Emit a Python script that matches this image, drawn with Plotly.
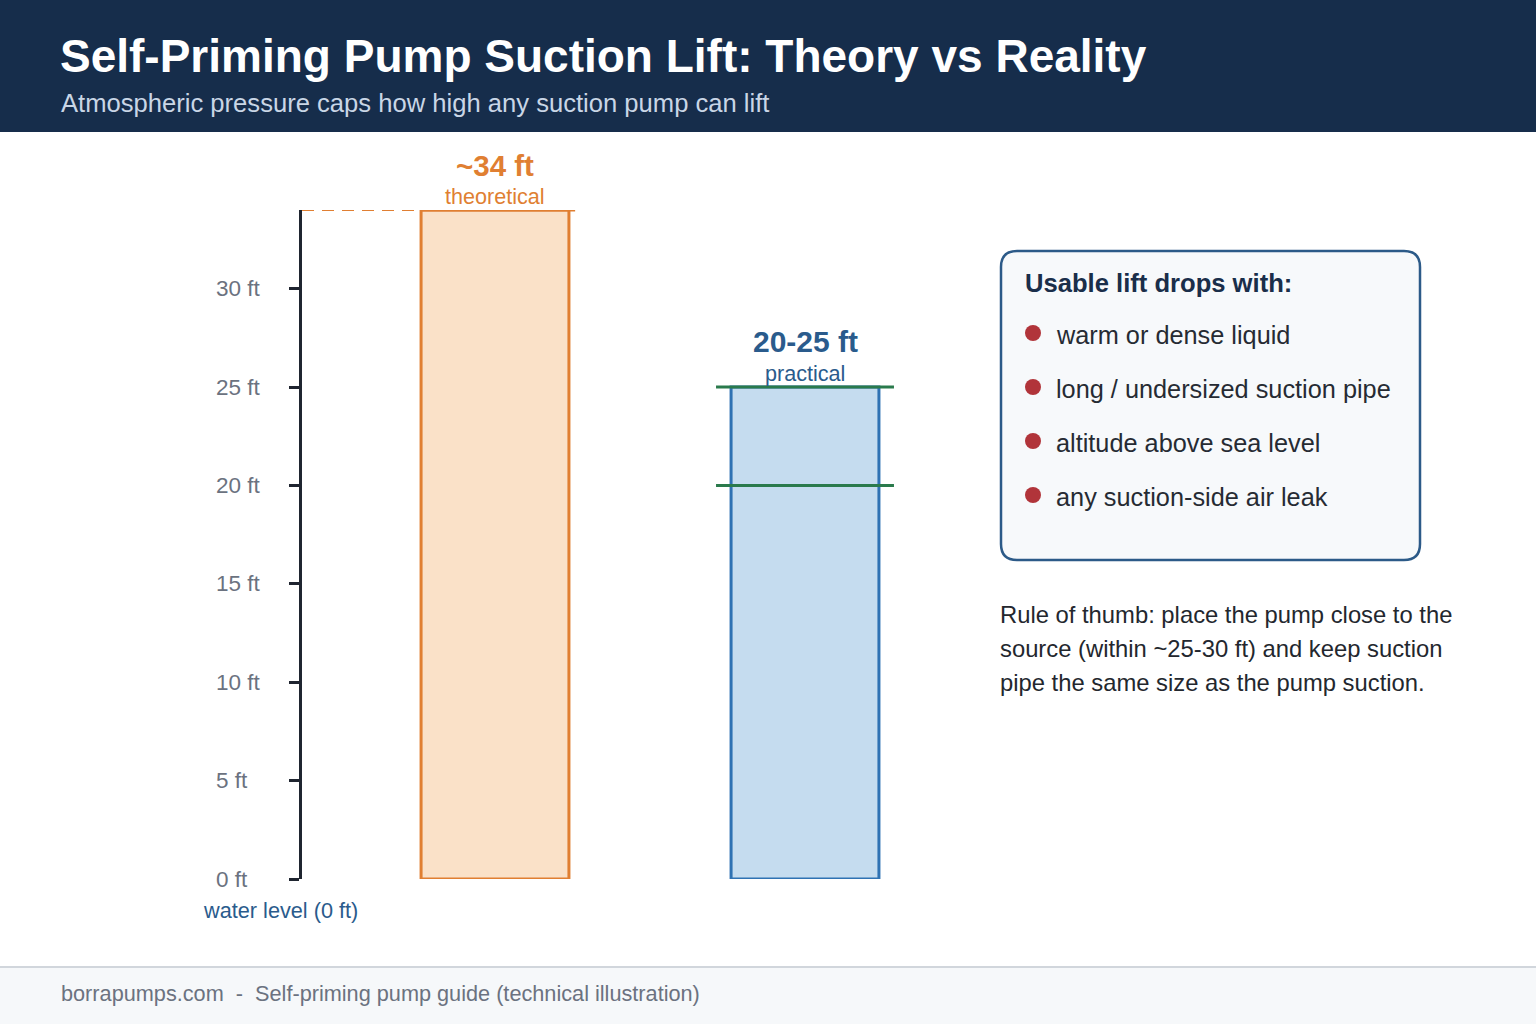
import plotly.graph_objects as go

W, H = 1536, 1024

# ---------------- data ----------------
categories = ["theoretical", "practical"]
lift_ft = [34, 25]
practical_band = [20, 25]
tick_vals = [0, 5, 10, 15, 20, 25, 30]
tick_text = ["0 ft", "5 ft", "10 ft", "15 ft", "20 ft", "25 ft", "30 ft"]
bar_titles = ["~34 ft", "20-25 ft"]
factors = ["warm or dense liquid", "long / undersized suction pipe",
           "altitude above sea level", "any suction-side air leak"]
rule_lines = ["Rule of thumb: place the pump close to the",
              "source (within ~25-30 ft) and keep suction",
              "pipe the same size as the pump suction."]

title = "Self-Priming Pump Suction Lift: Theory vs Reality"
subtitle = "Atmospheric pressure caps how high any suction pump can lift"
footer = "borrapumps.com  -  Self-priming pump guide (technical illustration)"

# ---------------- colours ----------------
NAVY = "#162d4b"
ORANGE = "#e07f32"
ORANGE_FILL = "#fae1c8"
BLUE = "#2f72b3"
BLUE_FILL = "#c5dcef"
BLUE_TEXT = "#2a5b8c"
GREEN = "#2a7a4c"
RED = "#b1343a"
GRAY = "#6b7280"
DARK = "#1f2530"
FONT = "Liberation Sans, Arial, sans-serif"


def px(x):
    return x / W


def py(y):
    return 1 - y / H


fig = go.Figure()

fig.add_trace(go.Bar(
    x=[0, 1], y=lift_ft, width=0.477,
    marker=dict(color=[ORANGE_FILL, BLUE_FILL],
                line=dict(color=[ORANGE, BLUE], width=3)),
    hoverinfo="skip", showlegend=False,
))

# x axis: category index 0 / 1
x_lo, x_hi = -0.6226, 1.5
fig.update_xaxes(range=[x_lo, x_hi], domain=[px(302), px(960)],
                 visible=False, fixedrange=True)
fig.update_yaxes(range=[0, 34], domain=[py(879), py(210)],
                 showgrid=False, zeroline=False, showline=True,
                 linecolor=DARK, linewidth=3,
                 ticks="outside", ticklen=10, tickwidth=3, tickcolor=DARK,
                 tickvals=tick_vals, showticklabels=False, fixedrange=True)

shapes = []
# header band
shapes.append(dict(type="rect", xref="paper", yref="paper", x0=0, x1=1,
                   y0=py(132), y1=1, fillcolor=NAVY, line_width=0, layer="below"))
# footer band
shapes.append(dict(type="rect", xref="paper", yref="paper", x0=0, x1=1,
                   y0=0, y1=py(967), fillcolor="#f6f8fa", line_width=0, layer="below"))
shapes.append(dict(type="line", xref="paper", yref="paper", x0=0, x1=1,
                   y0=py(967), y1=py(967), line=dict(color="#d1d6dc", width=2)))

# theoretical limit: dashed guide from the axis to the bar, solid over the bar
bar_half = 0.477 / 2
shapes.append(dict(type="line", xref="x", yref="y", x0=x_lo, x1=0 - bar_half,
                   y0=lift_ft[0], y1=lift_ft[0],
                   line=dict(color=ORANGE, width=2, dash="12px,8px")))
shapes.append(dict(type="line", xref="x", yref="y", x0=0 - bar_half, x1=0 + bar_half + 0.02,
                   y0=lift_ft[0], y1=lift_ft[0],
                   line=dict(color=ORANGE, width=3)))
# practical band lines
for v in practical_band:
    shapes.append(dict(type="line", xref="x", yref="y", x0=1 - 0.287, x1=1 + 0.287,
                       y0=v, y1=v, line=dict(color=GREEN, width=3)))

# info box (rounded)
bx0, bx1, by0, by1, r = 1001, 1420, 251, 560, 16
path = (f"M {px(bx0 + r)} {py(by0)} L {px(bx1 - r)} {py(by0)} "
        f"Q {px(bx1)} {py(by0)} {px(bx1)} {py(by0 + r)} "
        f"L {px(bx1)} {py(by1 - r)} Q {px(bx1)} {py(by1)} {px(bx1 - r)} {py(by1)} "
        f"L {px(bx0 + r)} {py(by1)} Q {px(bx0)} {py(by1)} {px(bx0)} {py(by1 - r)} "
        f"L {px(bx0)} {py(by0 + r)} Q {px(bx0)} {py(by0)} {px(bx0 + r)} {py(by0)} Z")
shapes.append(dict(type="path", xref="paper", yref="paper", path=path,
                   fillcolor="#f7f9fb", line=dict(color="#2c5a88", width=2.5), layer="below"))

# bullets
for i, _ in enumerate(factors):
    cy = 333 + 54 * i
    shapes.append(dict(type="circle", xref="paper", yref="paper",
                       x0=px(1025), x1=px(1041), y0=py(cy + 8), y1=py(cy - 8),
                       fillcolor=RED, line_width=0))

ann = []


def text(x, y, s, size, color, family=FONT, anchor="left", xref="paper", yref="paper"):
    ann.append(dict(x=x, y=y, xref=xref, yref=yref, text=s, showarrow=False,
                    xanchor=anchor, yanchor="middle",
                    font=dict(size=size, color=color, family=family)))


text(px(58), py(56), f"<b>{title}</b>", 46, "#ffffff")
text(px(59), py(103), subtitle, 25.6, "#c9d6e6")

# tick labels
for v, t in zip(tick_vals, tick_text):
    text(px(214), v, t, 22.5, GRAY, yref="y")
text(px(201), py(910), "water level (0 ft)", 21.7, BLUE_TEXT)

# bar labels
text(0, py(165), f"<b>{bar_titles[0]}</b>", 29.5, ORANGE, anchor="center", xref="x")
text(0, py(196), categories[0], 21.6, ORANGE, anchor="center", xref="x")
text(1, py(341), f"<b>{bar_titles[1]}</b>", 30, BLUE_TEXT, anchor="center", xref="x")
text(1, py(373), categories[1], 21.6, BLUE_TEXT, anchor="center", xref="x")

# info box
text(px(1023), py(283), "<b>Usable lift drops with:</b>", 25.6, "#1a2e4a")
for i, f in enumerate(factors):
    text(px(1054), py(335 + 54 * i), f, 25.3, "#262b33")

for i, line in enumerate(rule_lines):
    text(px(998), py(614 + 34 * i), line, 23.8, "#23272e")

text(px(59), py(993), footer, 21.7, GRAY)

fig.update_layout(
    width=W, height=H, margin=dict(l=0, r=0, t=0, b=0),
    paper_bgcolor="#ffffff", plot_bgcolor="rgba(0,0,0,0)",
    shapes=shapes, annotations=ann, showlegend=False,
)

fig.write_html("out.html", config={"displayModeBar": False})
